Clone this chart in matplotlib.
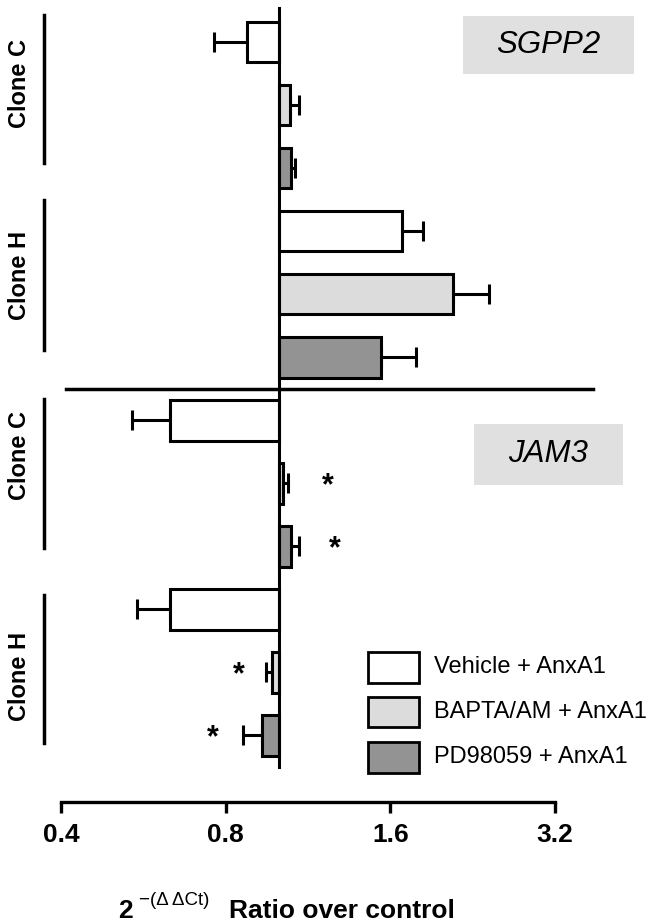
import matplotlib
matplotlib.use("Agg")
import matplotlib.pyplot as plt
from matplotlib.patches import Rectangle
from matplotlib.lines import Line2D
import numpy as np

plt.rcParams['font.family'] = ['Liberation Sans', 'DejaVu Sans']

# ---------------- data ----------------
genes = ["SGPP2", "JAM3"]
clones = ["Clone C", "Clone H"]
treatments = ["Vehicle + AnxA1", "BAPTA/AM + AnxA1", "PD98059 + AnxA1"]
treatment_colors = ["#ffffff", "#dcdcdc", "#939393"]
tick_values = [0.4, 0.8, 1.6, 3.2]
tick_labels = ["0.4", "0.8", "1.6", "3.2"]

sgpp2_clone_c = [0.874, 1.047, 1.052]
sgpp2_clone_c_err = [0.113, 0.041, 0.018]
sgpp2_clone_h = [1.678, 2.080, 1.536]
sgpp2_clone_h_err = [0.155, 0.340, 0.244]
jam3_clone_c = [0.632, 1.017, 1.052]
jam3_clone_c_err = [0.093, 0.021, 0.036]
jam3_clone_h = [0.632, 0.971, 0.931]
jam3_clone_h_err = [0.082, 0.025, 0.072]
jam3_clone_c_sig = [False, True, True]
jam3_clone_h_sig = [False, True, True]

values = sgpp2_clone_c + sgpp2_clone_h + jam3_clone_c + jam3_clone_h
errors = sgpp2_clone_c_err + sgpp2_clone_h_err + jam3_clone_c_err + jam3_clone_h_err
sig = [False] * 6 + jam3_clone_c_sig + jam3_clone_h_sig
colors = treatment_colors * 4

# ---------------- layout ----------------
W, H = 649, 924
def fx(px):
    return px / W
def fy(py):
    return 1 - py / H

fig = plt.figure(figsize=(W / 100, H / 100), dpi=100)
ax = fig.add_axes([fx(61), fy(802), (649 - 61) / W, 802 / H])
ax.set_xscale("log", base=2)
ax.set_xlim(0.4, 0.4 * 2 ** (588 / 164.7))
ax.set_ylim(12.063, -0.667)

LW = 2.2
idx = np.arange(len(values))
vals = np.array(values)
errs = np.array(errors)

ax.barh(idx, vals - 1.0, left=1.0, height=0.65, color=colors,
        edgecolor="black", linewidth=LW, zorder=3)
lower = np.where(vals < 1, errs, 0.0)
upper = np.where(vals >= 1, errs, 0.0)
ax.errorbar(vals, idx, xerr=[lower, upper], fmt="none", ecolor="black",
            elinewidth=LW, capsize=7.5, capthick=LW, zorder=2)

# baseline & separator
ax.plot([1, 1], [-0.54, 11.51], color="black", lw=LW, zorder=4, clip_on=False)
ax.plot([0.408, 3.75], [5.508, 5.508], color="black", lw=2.5, zorder=4, clip_on=False)

# significance stars
star_off_px = {7: 40, 8: 36, 10: -27, 11: -30}
for i in idx:
    if sig[i]:
        end = vals[i] + errs[i] if vals[i] >= 1 else vals[i] - errs[i]
        ax.annotate("*", xy=(end, i), xytext=(star_off_px[i] * 0.72, -2.5),
                    textcoords="offset points", ha="center", va="center",
                    fontsize=22, fontweight="bold", zorder=5)

# axis styling
for s in ["top", "right", "left"]:
    ax.spines[s].set_visible(False)
ax.spines["bottom"].set_linewidth(2.4)
ax.spines["bottom"].set_bounds(tick_values[0], tick_values[-1])
ax.set_xticks(tick_values)
ax.set_xticklabels(tick_labels)
ax.xaxis.set_minor_locator(matplotlib.ticker.NullLocator())
ax.tick_params(axis="x", direction="out", length=8, width=2.4, pad=7,
               labelsize=19)
for lbl in ax.get_xticklabels():
    lbl.set_fontweight("bold")
ax.set_yticks([])

# clone labels and brackets
clone_lines = [(15, 163), (200, 350), (399, 548), (595, 743)]
clone_text_y = [83, 275, 455, 676]
for k, ((y0, y1), ty) in enumerate(zip(clone_lines, clone_text_y)):
    fig.add_artist(Line2D([fx(44), fx(44)], [fy(y0), fy(y1)], color="black", lw=2.5))
    fig.text(fx(20), fy(ty), clones[k % 2], rotation=90, ha="center", va="center",
             fontsize=17, fontweight="bold")

# gene boxes
gene_boxes = [(463, 16, 634, 74), (474, 424, 623, 485)]
for g, (x0, y0, x1, y1) in zip(genes, gene_boxes):
    fig.add_artist(Rectangle((fx(x0), fy(y1)), fx(x1) - fx(x0), fy(y0) - fy(y1),
                             transform=fig.transFigure, facecolor="#e0e0e0",
                             edgecolor="none"))
    fig.text(fx((x0 + x1) / 2), fy((y0 + y1) / 2), g, ha="center", va="center",
             fontsize=22.5, style="italic")

# legend
leg_rows = [(650, 684), (695, 728), (740, 774)]
for t, c, (y0, y1) in zip(treatments, treatment_colors, leg_rows):
    fig.add_artist(Rectangle((fx(367.5), fy(y1 - 1.5)), fx(418.5) - fx(367.5),
                             fy(y0 + 1.5) - fy(y1 - 1.5), transform=fig.transFigure,
                             facecolor=c, edgecolor="black", linewidth=2.0))
    fig.text(fx(434), fy((y0 + y1) / 2), t, ha="left", va="center", fontsize=17)

# x label
fig.text(fx(118), fy(918), "2", ha="left", va="baseline", fontsize=19, fontweight="bold")
fig.text(fx(139), fy(905), "\u2212(\u0394 \u0394Ct)", ha="left", va="baseline",
         fontsize=13.5)
fig.text(fx(229), fy(918), "Ratio over control", ha="left", va="baseline",
         fontsize=19, fontweight="bold")

fig.savefig("out.png", dpi=100)
